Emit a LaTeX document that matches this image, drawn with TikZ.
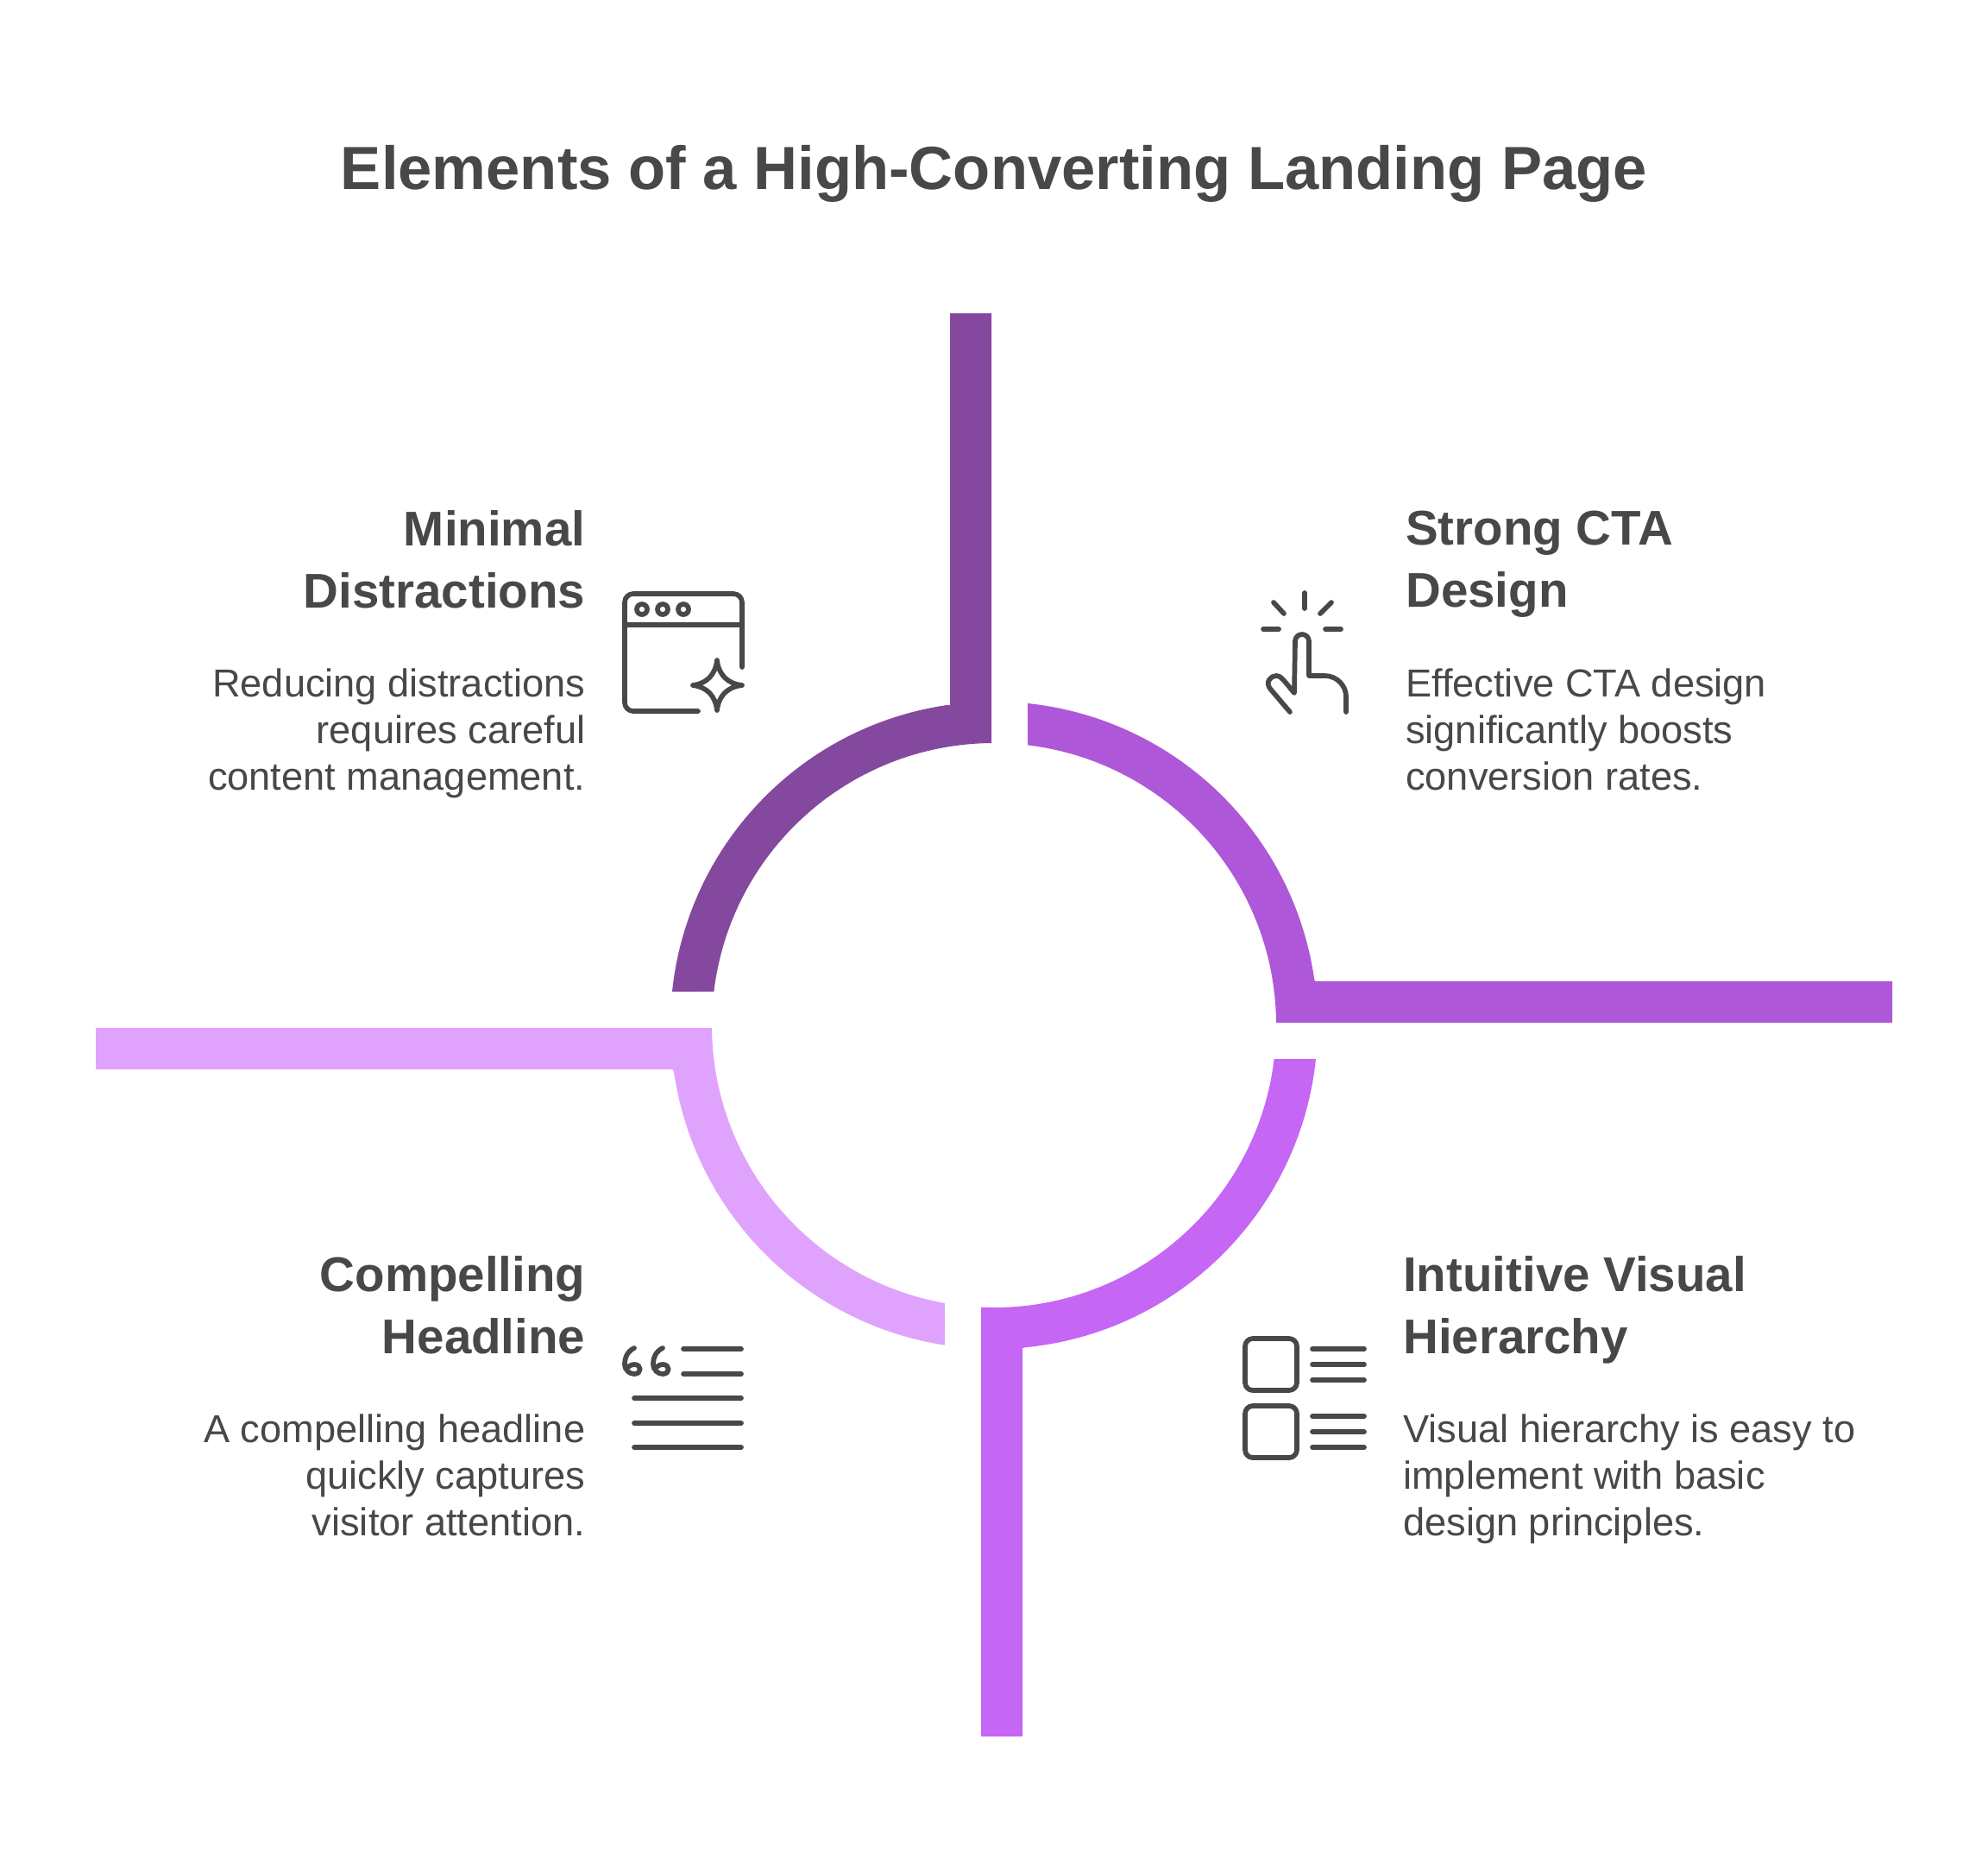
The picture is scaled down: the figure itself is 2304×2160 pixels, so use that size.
\documentclass[tikz,border=0pt]{standalone}
\usepackage{fontspec}
\setmainfont{Liberation Sans}
\definecolor{ink}{HTML}{484848}
\definecolor{segA}{HTML}{84499E}
\definecolor{segB}{HTML}{AE57D9}
\definecolor{segC}{HTML}{C566F5}
\definecolor{segD}{HTML}{E0A3FD}
\tikzset{
  x=1pt,y=-1pt,
  icon/.style={draw=ink,line width=5.7pt,line cap=round,line join=round},
  heading/.style={text=ink,inner sep=0pt,font=\fontsize{56.5}{72}\selectfont\bfseries},
  body/.style={text=ink,inner sep=0pt,font=\fontsize{45.2}{53.9}\selectfont},
  titletext/.style={text=ink,inner sep=0pt,font=\fontsize{70.6}{88}\selectfont\bfseries}
}
\begin{document}
\begin{tikzpicture}
\useasboundingbox (0,0) rectangle (2304,2160);
\fill[white] (0,0) rectangle (2304,2160);
% ring segments (centre 1152,1188; radii 327 and 375)
\fill[segA] (1149,363) -- (1149,861) arc[start angle=90.53,end angle=173.15,radius=327pt]
  -- (779,1149) arc[start angle=174.03,end angle=98.3,radius=375pt]
  .. controls (1101,816.5) .. (1101,821) -- (1101,363) -- cycle;
\fill[segB] (1191,815) arc[start angle=84.03,end angle=8.3,radius=375pt]
  .. controls (1523.5,1137) .. (1527,1137) -- (2193,1137) -- (2193,1185) -- (1479,1185)
  arc[start angle=0.53,end angle=83.15,radius=327pt] -- cycle;
\fill[segC] (1525,1227) arc[start angle=-5.97,end angle=-84.5,radius=375pt]
  .. controls (1185,1561.5) .. (1185,1566) -- (1185,2012) -- (1137,2012) -- (1137,1514.66)
  arc[start angle=-92.63,end angle=-6.85,radius=327pt] -- cycle;
\fill[segD] (111,1191) -- (825,1191) arc[start angle=180.53,end angle=259.96,radius=327pt]
  -- (1095,1558.6) arc[start angle=261.25,end angle=188.3,radius=375pt]
  .. controls (780.5,1239) .. (776,1239) -- (111,1239) -- cycle;
% title
\node[titletext] (title) at (1152,201) {Elements of a High-Converting Landing Page};
% texts
\node[heading,anchor=north east,align=right] (h1) at (678.5,591.5) {Minimal\\Distractions};
\node[body,anchor=north east,align=right] (b1) at (678.5,775) {Reducing distractions\\requires careful\\content management.};
\node[heading,anchor=north west,align=left] (h2) at (1629,591.5) {Strong CTA\\Design};
\node[body,anchor=north west,align=left] (b2) at (1629,775) {Effective CTA design\\significantly boosts\\conversion rates.};
\node[heading,anchor=north east,align=right] (h3) at (678.5,1455.5) {Compelling\\Headline};
\node[body,anchor=north east,align=right] (b3) at (678.5,1639) {A compelling headline\\quickly captures\\visitor attention.};
\node[heading,anchor=north west,align=left] (h4) at (1626,1455.5) {Intuitive Visual\\Hierarchy};
\node[body,anchor=north west,align=left] (b4) at (1626,1639) {Visual hierarchy is easy to\\implement with basic\\design principles.};
% browser icon
\draw[icon] (860,773) -- (860,698) arc[start angle=0,end angle=90,radius=10pt] -- (734,688)
  arc[start angle=90,end angle=180,radius=10pt] -- (724,814) arc[start angle=180,end angle=270,radius=10pt] -- (809,824);
\draw[icon] (724,724) -- (860,724);
\foreach \cx in {744,768,792} \draw[draw=ink,line width=5.7pt] (\cx,706) circle[radius=6pt];
\draw[icon] (831,765) .. controls (833,782) and (843,792) .. (860,794)
  .. controls (843,796) and (833,806) .. (831,823)
  .. controls (829,806) and (819,796) .. (803,794)
  .. controls (819,792) and (829,782) .. (831,765) -- cycle;
% hand icon
\draw[icon] (1512,687) -- (1512,705);
\draw[icon] (1476,698) -- (1488,711);
\draw[icon] (1543,698) -- (1530,711);
\draw[icon] (1464,729) -- (1482,729);
\draw[icon] (1536,729) -- (1554,729);
\draw[icon] (1495,825) -- (1472,798) .. controls (1466,790) and (1473,783) .. (1479,783)
  .. controls (1484,783) and (1486,786) .. (1500,803) -- (1501,743)
  arc[start angle=180,end angle=0,radius=8pt] -- (1517,783) -- (1535,783)
  .. controls (1550,783) and (1560,795) .. (1560,807) -- (1560,825);
% hierarchy icon
\draw[icon,rounded corners=9pt] (1443,1551) rectangle (1503,1611);
\draw[icon,rounded corners=9pt] (1443,1629) rectangle (1503,1689);
\foreach \ly in {1563,1581,1599,1641,1659,1677} \draw[icon] (1521,\ly) -- (1581,\ly);
% headline icon
\foreach \ly in {1563,1592} \draw[icon] (792,\ly) -- (859,\ly);
\foreach \ly in {1620,1649,1677} \draw[icon] (735,\ly) -- (859,\ly);
\foreach \qx in {0,33} {
  \draw[icon] (735+\qx,1562) .. controls (727+\qx,1566) and (724+\qx,1573) .. (724+\qx,1580)
    .. controls (724+\qx,1588) and (730+\qx,1592) .. (735+\qx,1592)
    .. controls (744+\qx,1592) and (744+\qx,1581) .. (735+\qx,1581)
    .. controls (731+\qx,1581) and (728+\qx,1584) .. (725+\qx,1586);
}
\end{tikzpicture}
\end{document}
